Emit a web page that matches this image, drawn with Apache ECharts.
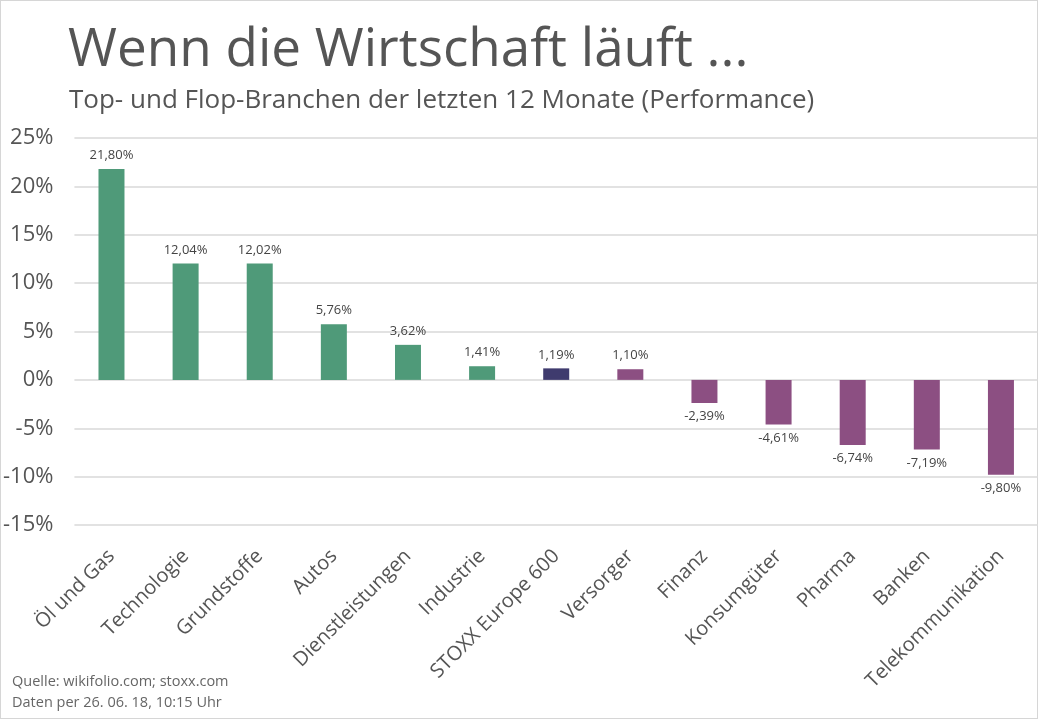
<!DOCTYPE html>
<html><head><meta charset="utf-8">
<script src="https://cdn.jsdelivr.net/npm/echarts@6/dist/echarts.min.js"></script>
<style>
html,body{margin:0;padding:0;background:#fff;}
#frame{position:absolute;left:0;top:0;width:1036px;height:717px;border:1px solid #d6d6d6;}
#c{position:absolute;left:0;top:0;width:1038px;height:719px;}
</style></head>
<body><div id="frame"></div><div id="c"></div>
<script>
const categories = ["Öl und Gas","Technologie","Grundstoffe","Autos","Dienstleistungen","Industrie","STOXX Europe 600","Versorger","Finanz","Konsumgüter","Pharma","Banken","Telekommunikation"];
const values = [21.80,12.04,12.02,5.76,3.62,1.41,1.19,1.10,-2.39,-4.61,-6.74,-7.19,-9.80];
const groups = ["top","top","top","top","top","top","index","flop","flop","flop","flop","flop","flop"];
const yTicks = [-15,-10,-5,0,5,10,15,20,25];
const colors = {top:"#4f9a79", index:"#3f3b6e", flop:"#8c4f82"};
const FONT = "'Open Sans', sans-serif";

const chart = echarts.init(document.getElementById('c'), null, {renderer:'canvas'});
chart.setOption({
  backgroundColor: 'transparent',
  animation: false,
  title: [
    {text:"Wenn die Wirtschaft läuft ...", left:68, top:24, padding:0, textStyle:{fontFamily:FONT, fontSize:53, fontWeight:'normal', color:'#555555'}},
    {text:"Top- und Flop-Branchen der letzten 12 Monate (Performance)", left:69, top:88, padding:0, textStyle:{fontFamily:FONT, fontSize:26, fontWeight:'normal', color:'#555555'}},
    {text:"Quelle: wikifolio.com; stoxx.com\nDaten per 26. 06. 18, 10:15 Uhr", left:12, top:671, padding:0, textStyle:{fontFamily:FONT, fontSize:14.5, fontWeight:'normal', color:'#666666', lineHeight:21}}
  ],
  grid: {left:73, right:0, top:138, bottom:194, containLabel:false},
  xAxis: {
    type:'category', data:categories,
    axisLine:{show:false}, axisTick:{show:false},
    axisLabel:{rotate:45, interval:0, margin:28, fontFamily:FONT, fontSize:20, color:'#555555'}
  },
  yAxis: {
    type:'value', min:yTicks[0], max:yTicks[yTicks.length-1], interval:5,
    axisLine:{show:false}, axisTick:{show:false},
    axisLabel:{formatter:v=>v+'%', fontFamily:FONT, fontSize:22, color:'#555555', margin:21},
    splitLine:{lineStyle:{color:'#d9d9d9', width:1.5}}
  },
  series: [{
    type:'bar',
    barWidth:26,
    data: values.map((v,i)=>({value:v, itemStyle:{color:colors[groups[i]]}})),
    label:{show:true, position:'outside', distance:7, fontFamily:FONT, fontSize:13, color:'#444444',
      formatter:p=>p.value.toFixed(2).replace('.',',')+'%'}
  }]
});
</script></body></html>
